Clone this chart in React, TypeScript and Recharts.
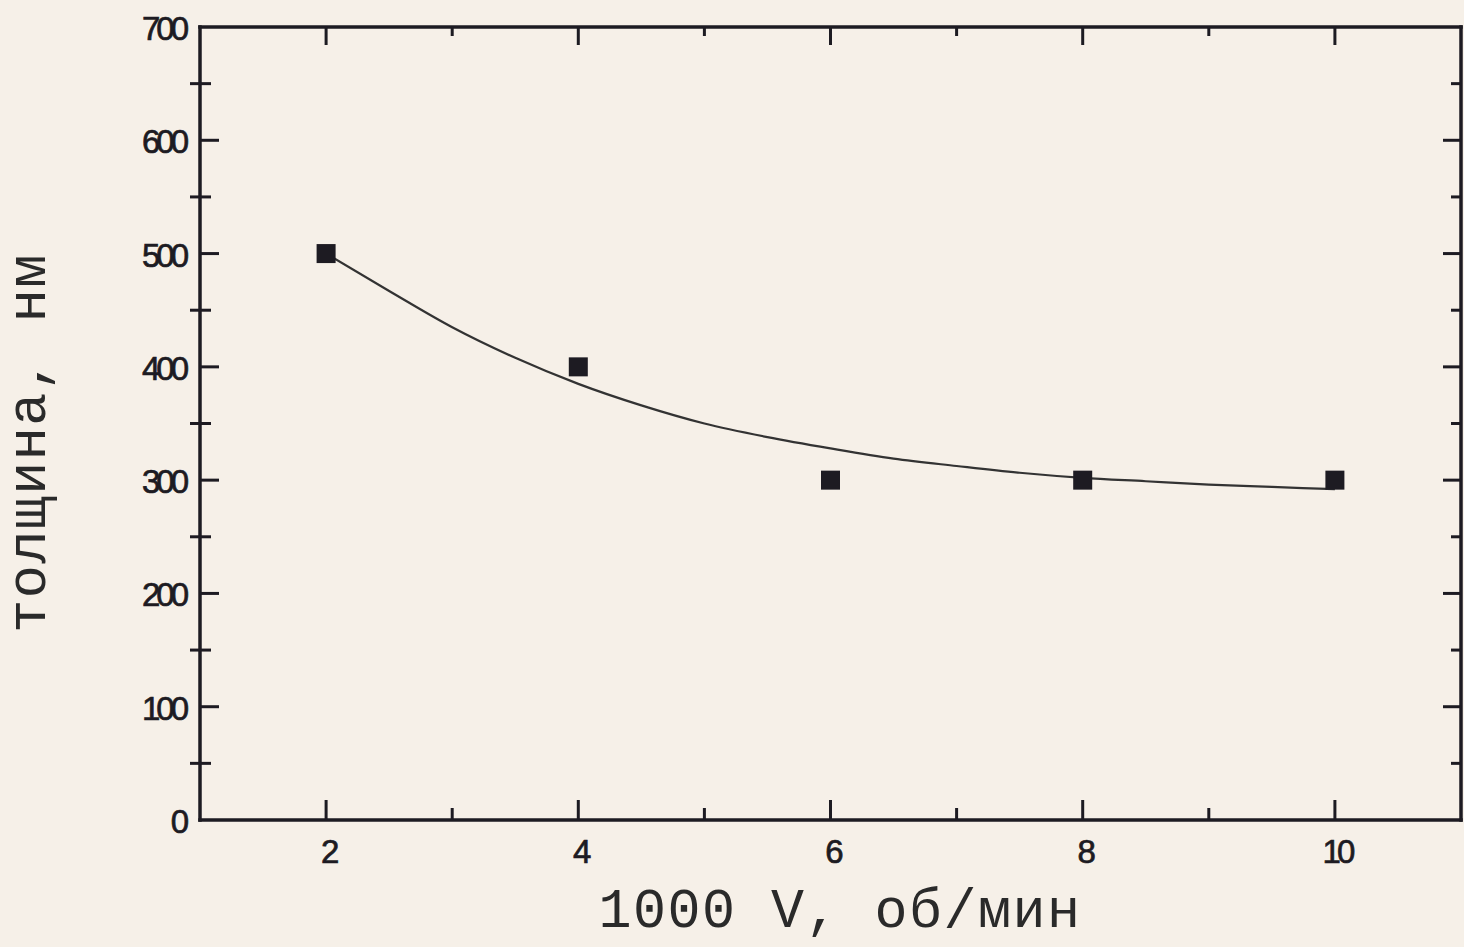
import { ComposedChart, Label, Line, ReferenceLine, Scatter, XAxis, YAxis } from "recharts";

// measured points: rotation speed (x1000 rpm) vs film thickness (nm)
const speed = [2, 4, 6, 8, 10];
const thickness = [500, 400, 300, 300, 300];

// fitted curve
const fitSpeed = [2, 2.5, 3, 3.5, 4, 4.5, 5, 5.5, 6, 6.5, 7, 7.5, 8, 8.5, 9, 9.5, 10];
const fitThickness = [500, 467, 435, 408, 385, 366, 350, 338, 328, 319, 312.5, 306.5, 302, 299, 296, 294, 292];

const xTicks = [2, 3, 4, 5, 6, 7, 8, 9, 10];
const yTicks = [0, 50, 100, 150, 200, 250, 300, 350, 400, 450, 500, 550, 600, 650, 700];

const points = speed.map((x, i) => ({ x, y: thickness[i] }));
const fit = fitSpeed.map((x, i) => ({ x, y: fitThickness[i] }));

// plot frame edges (px)
const LEFT = 200;
const RIGHT = 1461;
const TOP = 27;
const BOTTOM = 820;

const INK = "#1d1b22";
const BG = "#f6f0e8";
const tickFont = {
  fontFamily: "'Liberation Sans', Arial, sans-serif",
  fontSize: 33,
  letterSpacing: -4,
  fill: INK,
  stroke: INK,
  strokeWidth: 0.7,
};
const titleFont = {
  fontFamily: "'Liberation Mono', 'Courier New', monospace",
  fontSize: 55,
  letterSpacing: 1.5,
  fill: "#2a2a2a",
};

// bottom axis also draws the mirrored ticks on the top edge of the frame
const XTick = ({ x, payload }: any) => {
  const major = payload.value % 2 === 0;
  return (
    <g>
      <line x1={x} x2={x} y1={BOTTOM} y2={BOTTOM - (major ? 20 : 12)} stroke={INK} strokeWidth={3} />
      <line x1={x} x2={x} y1={TOP} y2={TOP + (major ? 18 : 9)} stroke={INK} strokeWidth={3} />
      {major && (
        <text x={x + 2} y={BOTTOM + 43} textAnchor="middle" {...tickFont}>
          {payload.value}
        </text>
      )}
    </g>
  );
};

// left axis also draws the mirrored ticks on the right edge of the frame
const YTick = ({ y, payload }: any) => {
  const v = payload.value;
  const major = v % 100 === 0;
  const edge = v === 0 || v === 700;
  return (
    <g>
      {!edge && (
        <>
          {major ? (
            <line x1={LEFT} x2={LEFT + 19} y1={y} y2={y} stroke={INK} strokeWidth={3} />
          ) : (
            <line x1={LEFT - 10} x2={LEFT + 11} y1={y} y2={y} stroke={INK} strokeWidth={3} />
          )}
          <line x1={RIGHT} x2={RIGHT - (major ? 18 : 10)} y1={y} y2={y} stroke={INK} strokeWidth={3} />
        </>
      )}
      {major && (
        <text x={LEFT - 15} y={y + 13} textAnchor="end" {...tickFont}>
          {v}
        </text>
      )}
    </g>
  );
};

const Square = ({ cx, cy }: any) => <rect x={cx - 9.5} y={cy - 9.5} width={19} height={19} fill={INK} />;

const axisLine = { stroke: INK, strokeWidth: 3.5, strokeLinecap: "square" as const };

export default function App() {
  return (
    <div style={{ position: "absolute", left: 0, top: 0, width: 1464, height: 947, background: BG }}>
      <ComposedChart
        width={1464}
        height={947}
        data={fit}
        margin={{ top: TOP, right: 1464 - RIGHT - 3, bottom: 0, left: 0 }}
      >
        <XAxis
          xAxisId="bottom"
          type="number"
          dataKey="x"
          domain={[1, 11]}
          ticks={xTicks}
          height={947 - BOTTOM}
          tickSize={0}
          tickMargin={0}
          tickLine={false}
          axisLine={axisLine}
          tick={<XTick />}
          interval={0}
        >
          <Label
            content={() => (
              <text x={840} y={927} textAnchor="middle" {...titleFont}>
                1000 V, об/мин
              </text>
            )}
          />
        </XAxis>
        <YAxis
          yAxisId="left"
          type="number"
          domain={[0, 700]}
          ticks={yTicks}
          width={LEFT}
          tickSize={0}
          tickMargin={0}
          tickLine={false}
          axisLine={axisLine}
          tick={<YTick />}
          interval={0}
        >
          <Label
            content={() => (
              <text x={45} y={443} textAnchor="middle" transform="rotate(-90 45 443)" {...titleFont}>
                толщина, нм
              </text>
            )}
          />
        </YAxis>
        <YAxis
          yAxisId="right"
          orientation="right"
          type="number"
          domain={[0, 700]}
          width={3}
          tick={false}
          tickLine={false}
          axisLine={axisLine}
        />
        {/* top edge of the frame */}
        <ReferenceLine
          xAxisId="bottom"
          yAxisId="left"
          y={700}
          stroke={INK}
          strokeWidth={3.5}
          strokeLinecap="square"
        />
        <Line
          xAxisId="bottom"
          yAxisId="left"
          type="monotone"
          dataKey="y"
          stroke="#333333"
          strokeWidth={2.2}
          dot={false}
          isAnimationActive={false}
        />
        <Scatter
          xAxisId="bottom"
          yAxisId="left"
          data={points}
          dataKey="y"
          shape={<Square />}
          isAnimationActive={false}
        />
      </ComposedChart>
    </div>
  );
}
